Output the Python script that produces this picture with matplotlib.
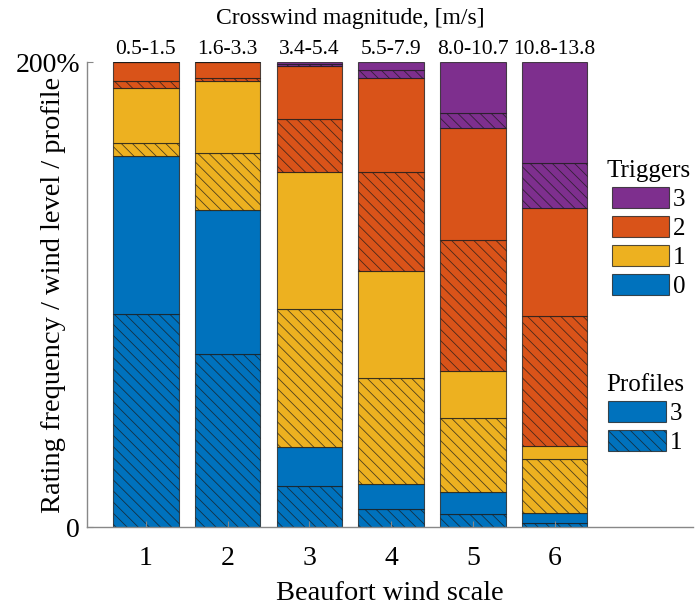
import numpy as np
import matplotlib.pyplot as plt
from matplotlib.patches import Patch

plt.rcParams['font.family'] = 'serif'
plt.rcParams['font.serif'] = ['Liberation Serif', 'DejaVu Serif']
plt.rcParams['hatch.linewidth'] = 0.6

# Beaufort levels and crosswind ranges
levels = [1, 2, 3, 4, 5, 6]
wind_ranges = ['0.5-1.5', '1.6-3.3', '3.4-5.4', '5.5-7.9', '8.0-10.7', '10.8-13.8']

# share of ratings (%) per trigger count, profile 1 (hatched) and profile 3 (solid)
p1_t0 = [91.6, 74.2, 17.6, 7.6, 5.7, 1.9]
p1_t1 = [5.5, 24.8, 59.5, 45.9, 31.9, 22.9]
p1_t2 = [2.9, 1.0, 22.4, 42.8, 56.1, 55.8]
p1_t3 = [0.0, 0.0, 0.5, 3.7, 6.3, 19.4]

p3_t0 = [67.9, 62.0, 16.8, 10.7, 9.5, 4.3]
p3_t1 = [24.0, 31.0, 59.0, 45.7, 20.2, 5.7]
p3_t2 = [8.1, 7.0, 23.2, 40.3, 48.4, 46.4]
p3_t3 = [0.0, 0.0, 1.0, 3.3, 21.9, 43.6]

triggers = ['0', '1', '2', '3']
colors = ['#0072BD', '#EDB120', '#D95319', '#7E2F8E']

prof1 = [p1_t0, p1_t1, p1_t2, p1_t3]
prof3 = [p3_t0, p3_t1, p3_t2, p3_t3]

fig = plt.figure(figsize=(6.98, 6.05), dpi=100)
ax = fig.add_axes([0.1246, 0.1289, 0.8682, 0.7686])

x = np.array(levels, dtype=float)
bottom = np.zeros(len(levels))
edge = (0.1, 0.1, 0.1, 0.75)
hatch = '\\\\\\'

for i in range(len(triggers)):
    h1 = np.array(prof1[i])
    ax.bar(x, h1, 0.8, bottom=bottom, color=colors[i], edgecolor=edge,
           linewidth=0.8, hatch=hatch)
    bottom = bottom + h1
    h3 = np.array(prof3[i])
    ax.bar(x, h3, 0.8, bottom=bottom, color=colors[i], edgecolor=edge,
           linewidth=0.8)
    bottom = bottom + h3

ax.set_xlim(0.28, 7.69)
ax.set_ylim(0, 200)

ax.set_xticks(levels)
ax.set_xticklabels([str(l) for l in levels], fontsize=20)
ax.set_yticks([0, 200])
ax.set_yticklabels(['0', '200%'], fontsize=20)
ax.tick_params(direction='in', length=4, color='#888888')
ax.tick_params(axis='x', pad=14)
ax.tick_params(axis='y', pad=5)

for s in ['top', 'right']:
    ax.spines[s].set_visible(False)
for s in ['left', 'bottom']:
    ax.spines[s].set_color('#888888')
    ax.spines[s].set_linewidth(1.0)

ax.set_xlabel('Beaufort wind scale', fontsize=20.5, labelpad=7)
ax.set_ylabel('Rating frequency / wind level / profile', fontsize=20.5)
ax.yaxis.set_label_coords(-0.034, 0.5)

for xi, r in zip(x, wind_ranges):
    ax.text(xi, 205.5, r, ha='center', va='center', fontsize=15.5)
ax.text(3.5, 218.5, 'Crosswind magnitude, [m/s]', ha='center', va='center', fontsize=17)

# legends
trig_handles = [Patch(facecolor=colors[i], edgecolor=edge, linewidth=0.8)
                for i in range(3, -1, -1)]
leg1 = ax.legend(trig_handles, triggers[::-1], title='Triggers', loc='upper left',
                 bbox_to_anchor=(0.857, 0.79), frameon=False, fontsize=18,
                 title_fontsize=18, handlelength=2.3, handleheight=0.92,
                 handletextpad=0.15, labelspacing=0.2, borderaxespad=0,
                 borderpad=0)
ax.add_artist(leg1)

prof_handles = [Patch(facecolor=colors[0], edgecolor=edge, linewidth=0.8),
                Patch(facecolor=colors[0], edgecolor=edge, linewidth=0.8, hatch=hatch)]
ax.legend(prof_handles, ['3', '1'], title='Profiles', loc='upper left',
          bbox_to_anchor=(0.857, 0.329), frameon=False, fontsize=18,
          title_fontsize=18, handlelength=2.3, handleheight=0.92,
          handletextpad=0.15, labelspacing=0.2, borderaxespad=0, borderpad=0)

fig.savefig('out.png', dpi=100)
